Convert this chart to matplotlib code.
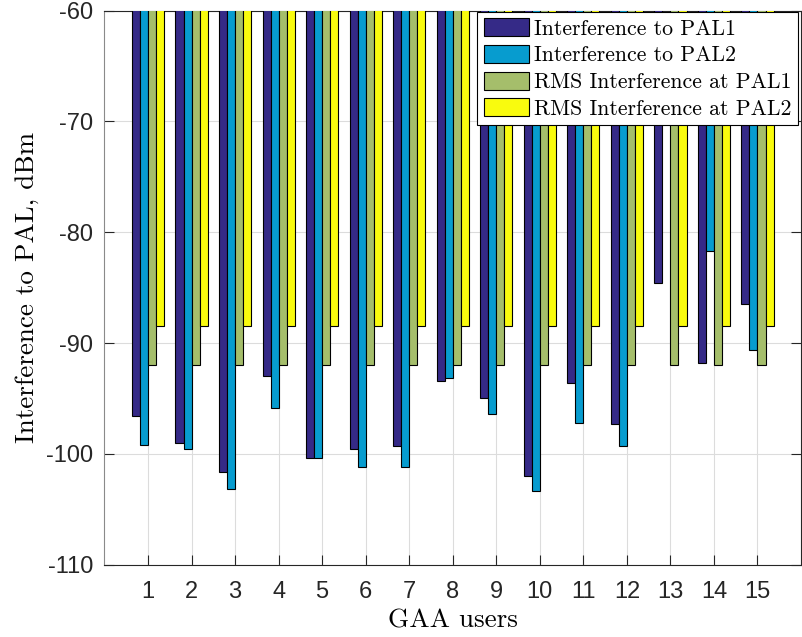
import numpy as np
import matplotlib
matplotlib.use("Agg")
import matplotlib.pyplot as plt

# GAA users on the x axis
users = list(range(1, 16))

# Interference levels in dBm
interf_pal1 = [-96.6, -99.0, -101.65, -93.0, -100.4, -99.6, -99.3, -93.4,
               -94.95, -102.0, -93.6, -97.3, -84.55, -91.8, -86.45]
interf_pal2 = [-99.2, -99.6, -103.2, -95.9, -100.4, -101.2, -101.2, -93.15,
               -96.4, -103.35, -97.2, -99.25, np.nan, -81.7, -90.6]
rms_pal1 = [-92.0] * 15
rms_pal2 = [-88.5] * 15

series_names = ["Interference to PAL1", "Interference to PAL2",
                "RMS Interference at PAL1", "RMS Interference at PAL2"]
series_colors = ["#352A87", "#079CCF", "#A5BE6B", "#F9FB0E"]

y_ticks = [-110, -100, -90, -80, -70, -60]

fig = plt.figure(figsize=(8.02, 6.37), dpi=100)
ax = fig.add_axes([104.5 / 802, 1 - 564.7 / 637, (801 - 104.5) / 802, (564.7 - 10.7) / 637])

tick_font = {"family": "Liberation Sans", "size": 17}
label_font = {"family": "cmr10", "size": 19.5}

width = 0.185
x = np.array(users, dtype=float)
all_series = [interf_pal1, interf_pal2, rms_pal1, rms_pal2]
for i, (vals, name, col) in enumerate(zip(all_series, series_names, series_colors)):
    ax.bar(x + (i - 1.5) * width, vals, width=width, bottom=0, color=col,
           edgecolor="black", linewidth=0.8, label=name, zorder=3)

ax.set_xlim(0, 16)
ax.set_ylim(-110, -60)
ax.set_xticks(users)
ax.set_yticks(y_ticks)
ax.set_xticklabels([str(u) for u in users], fontdict=tick_font)
ax.set_yticklabels([str(t) for t in y_ticks], fontdict=tick_font)
ax.tick_params(direction="in", length=7, width=0.8, colors="#262626",
               top=True, right=True, pad=8)
ax.tick_params(axis="x", pad=12)

ax.grid(True, color="#dcdcdc", linewidth=0.8, zorder=0)
ax.set_axisbelow(True)
for side, sp in ax.spines.items():
    sp.set_color("#262626")
    sp.set_linewidth(0.8)
ax.spines["left"].set_color("#8a8a8a")

ax.set_xlabel("GAA users", fontdict=label_font, labelpad=4)
ax.set_ylabel("Interference to PAL, dBm", fontdict=label_font, labelpad=5)

leg = fig.legend(loc="upper left", bbox_to_anchor=(477 / 802, 1 - 11.7 / 637),
                 prop={"family": "cmr10", "size": 15.7}, frameon=True,
                 fancybox=False, edgecolor="black", framealpha=1,
                 handlelength=2.1, handleheight=0.9, handletextpad=0.22,
                 labelspacing=0.28, borderpad=0.3, borderaxespad=0)
leg.get_frame().set_linewidth(0.8)

fig.savefig("out.png", dpi=100)
